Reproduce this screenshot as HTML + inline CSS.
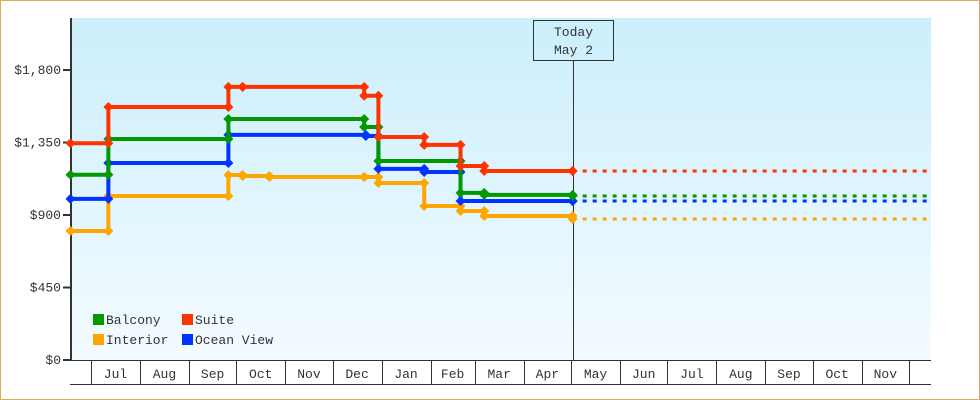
<!DOCTYPE html>
<html><head><meta charset="utf-8"><style>
html,body{margin:0;padding:0;background:#fff}
#wrap{position:relative;width:980px;height:400px;overflow:hidden}
svg text{font-family:"Liberation Mono","DejaVu Sans Mono",monospace;font-size:13px;fill:#333}
</style></head><body>
<div id="wrap">
<svg id="chart" width="980" height="400" xmlns="http://www.w3.org/2000/svg">
<defs><linearGradient id="bg" x1="0" y1="0" x2="0" y2="1"><stop offset="0" stop-color="#cbeffc"/><stop offset="1" stop-color="#f3fbff"/></linearGradient></defs>
<rect x="0.5" y="0.5" width="979" height="399" fill="#fff" stroke="#e8a860"/>
<rect x="71" y="18" width="860" height="342" fill="url(#bg)"/>
<g id="axes"></g><g id="series"></g><g id="legend"></g>
</svg></div>
<script>
// Data: days measured from Jul 1; prices in USD
const monthLabels=["Jul","Aug","Sep","Oct","Nov","Dec","Jan","Feb","Mar","Apr","May","Jun","Jul","Aug","Sep","Oct","Nov"];
const monthStarts=[0,31,62,92,123,153,184,215,243,274,304,335,365,396,427,457,488,518];
const yTicks=[0,450,900,1350,1800];
const yTickLabels=["$0","$450","$900","$1,350","$1,800"];
const todayDay=305;
const seriesNames=["Balcony","Suite","Interior","Ocean View"];
const seriesColors=["#009900","#ff3300","#ffa500","#0033ff"];
const balconyDays=[-13,11,87,173,182,234,249,305];
const balconyPrices=[1150,1372,1496,1446,1235,1037,1025,1018];
const suiteDays=[-13,11,87,96,173,182,211,234,249,305];
const suitePrices=[1345,1570,1695,1695,1640,1384,1335,1204,1173,1173];
const interiorDays=[-13,11,87,96,113,173,182,211,234,249,305];
const interiorPrices=[801,1018,1148,1142,1136,1136,1099,956,925,894,875,875].slice(0,11);
const oceanDays=[-13,11,87,174,182,211,234,305];
const oceanPrices=[1000,1223,1397,1390,1186,1167,987,987];
const endDay=518;

const NS="http://www.w3.org/2000/svg";
const X=d=>91+d*(818/518);
const Y=v=>360-v*(290/1800);
function el(tag,attrs,parent,txt){const e=document.createElementNS(NS,tag);for(const k in attrs)e.setAttribute(k,attrs[k]);if(txt!=null)e.textContent=txt;parent.appendChild(e);return e;}
const axes=document.getElementById('axes'),ser=document.getElementById('series'),leg=document.getElementById('legend');

// y axis
let a=el('line',{x1:71,y1:18,x2:71,y2:361,stroke:'#333','stroke-width':2},axes);


yTicks.forEach((v,i)=>{
  const t=el('line',{x1:63,y1:Y(v),x2:71,y2:Y(v),stroke:'#333','stroke-width':2},axes);
  
  
  const l=el('text',{x:61,y:Y(v)+4,'text-anchor':'end'},axes,yTickLabels[i]);
  
  
});
// x axis band
let b=el('line',{x1:70,y1:360.5,x2:931,y2:360.5,stroke:'#333','stroke-width':1},axes);


let b2=el('line',{x1:70,y1:384.5,x2:931,y2:384.5,stroke:'#333','stroke-width':1},axes);


monthStarts.forEach((d,i)=>{
  const x=Math.round(X(d))+0.5;
  const s=el('line',{x1:x,y1:360,x2:x,y2:384,stroke:'#333','stroke-width':1},axes);
  
  
  if(i<monthLabels.length){
    const t=el('text',{x:(X(d)+X(monthStarts[i+1]))/2,y:378,'text-anchor':'middle'},axes,monthLabels[i]);
    
    
  }
});
// today marker
const tx=Math.round(X(todayDay))+0.5;
let tl=el('line',{x1:tx,y1:60,x2:tx,y2:360,stroke:'#333','stroke-width':1},axes);


let tb=el('rect',{x:tx-40,y:20.5,width:80,height:40,fill:'none',stroke:'#333'},axes);


let tt1=el('text',{x:tx,y:36,'text-anchor':'middle'},axes,'Today');


let tt2=el('text',{x:tx,y:54,'text-anchor':'middle'},axes,'May 2');



const allDays=[balconyDays,suiteDays,interiorDays,oceanDays];
const allPrices=[balconyPrices,suitePrices,interiorPrices,oceanPrices];
const order=[2,3,0,1];
order.forEach(si=>{
  const ds=allDays[si],ps=allPrices[si],c=seriesColors[si];
  const g=el('g',{},ser);
  
  
  let pts=[];const marks=[];
  for(let i=0;i<ds.length;i++){
    if(i>0){pts.push([X(ds[i]),Y(ps[i-1])]);marks.push([X(ds[i]),Y(ps[i-1])]);}
    pts.push([X(ds[i]),Y(ps[i])]);marks.push([X(ds[i]),Y(ps[i])]);
  }
  const pl=el('polyline',{points:pts.map(p=>p.join(',')).join(' '),fill:'none',stroke:c,'stroke-width':4,'stroke-linejoin':'round'},g);
  
  
  const last=ps[ps.length-1];
  const dl=el('line',{x1:X(ds[ds.length-1])+10,y1:Y(last),x2:X(endDay)+22,y2:Y(last),stroke:c,'stroke-width':3,'stroke-dasharray':'4,6'},g);
  
  
  marks.forEach(m=>{
    const p=el('path',{d:`M${m[0]-5},${m[1]} L${m[0]},${m[1]-5} L${m[0]+5},${m[1]} L${m[0]},${m[1]+5}Z`,fill:c},g);
    
    
  });
});
// legend
const legPos=[[93,320],[182,320],[93,340],[182,340]];
seriesNames.forEach((n,i)=>{
  const g=el('g',{},leg);
  
  
  el('rect',{x:legPos[i][0],y:legPos[i][1]-6,width:11,height:11,fill:seriesColors[i]},g);
  el('text',{x:legPos[i][0]+13,y:legPos[i][1]+4},g,n);
});
</script>
</body></html>
